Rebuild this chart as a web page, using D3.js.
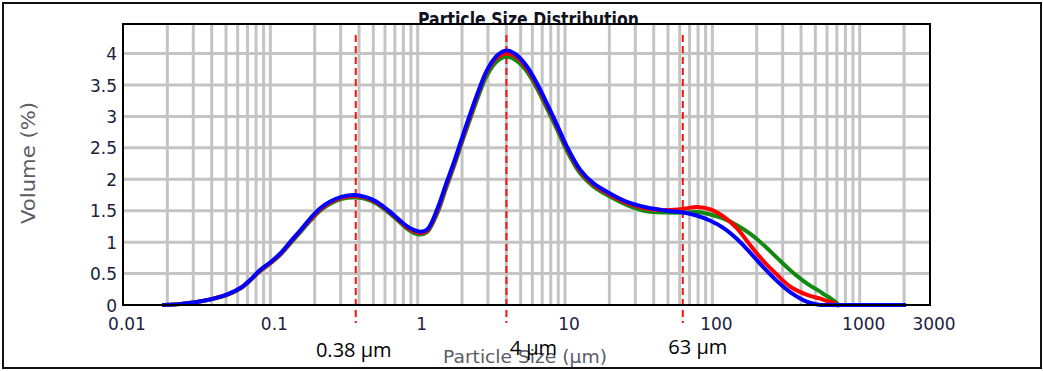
<!DOCTYPE html>
<html>
<head>
<meta charset="utf-8">
<script src="https://cdn.jsdelivr.net/npm/d3@7"></script>
<style>
  body { margin: 0; background: #fff; }
  svg { display: block; }
</style>
</head>
<body>
<svg id="chart" width="1043" height="371"></svg>
<script>
// --- data ---
const sizes = [0.019, 0.023, 0.03, 0.039, 0.051, 0.0625, 0.073, 0.0855, 0.1, 0.117,
  0.137, 0.16, 0.187, 0.218, 0.255, 0.307, 0.37, 0.44, 0.52, 0.62,
  0.73, 0.85, 0.95, 1.04, 1.16, 1.36, 1.56, 1.76, 2.0, 2.28,
  2.6, 2.96, 3.46, 4.0, 4.73, 5.53, 6.47, 7.56, 8.84, 10.3,
  12.7, 15.7, 19.3, 26.4, 36, 49, 64, 79, 97, 120,
  147, 181, 224, 275, 339, 440, 542, 571, 631, 667,
  700, 720, 1000, 2000];

const greenVol = [0, 0.01, 0.04, 0.085, 0.16, 0.26, 0.39, 0.54, 0.66, 0.8,
  0.98, 1.16, 1.34, 1.5, 1.61, 1.69, 1.71, 1.69, 1.62, 1.49,
  1.35, 1.21, 1.14, 1.12, 1.16, 1.46, 1.86, 2.20, 2.59, 2.97,
  3.34, 3.66, 3.88, 3.95, 3.88, 3.71, 3.44, 3.12, 2.79, 2.45,
  2.09, 1.88, 1.75, 1.59, 1.49, 1.47, 1.47, 1.48, 1.44, 1.37,
  1.27, 1.13, 0.95, 0.75, 0.55, 0.34, 0.21, 0.17, 0.11, 0.07,
  0.03, 0, null, null];

const redVol = [0, 0.01, 0.04, 0.09, 0.165, 0.265, 0.395, 0.55, 0.67, 0.81,
  1.0, 1.18, 1.36, 1.52, 1.63, 1.71, 1.73, 1.71, 1.64, 1.51,
  1.37, 1.23, 1.17, 1.145, 1.18, 1.5, 1.90, 2.24, 2.63, 3.02,
  3.4, 3.72, 3.94, 4.0, 3.94, 3.76, 3.49, 3.17, 2.84, 2.5,
  2.13, 1.91, 1.78, 1.62, 1.53, 1.51, 1.53, 1.56, 1.52, 1.40,
  1.22, 0.95, 0.69, 0.48, 0.29, 0.16, 0.10, 0.08, 0.05, 0.03,
  0, null, null, null];

const blueVol = [0, 0.01, 0.04, 0.09, 0.17, 0.27, 0.40, 0.56, 0.68, 0.82,
  1.01, 1.19, 1.38, 1.54, 1.645, 1.725, 1.75, 1.72, 1.65, 1.52,
  1.38, 1.25, 1.19, 1.165, 1.2, 1.53, 1.93, 2.27, 2.66, 3.05,
  3.42, 3.74, 3.97, 4.05, 3.97, 3.79, 3.52, 3.2, 2.86, 2.52,
  2.15, 1.93, 1.8, 1.64, 1.55, 1.50, 1.47, 1.42, 1.34, 1.22,
  1.05, 0.83, 0.59, 0.38, 0.2, 0.05, 0, 0, 0, 0,
  0, 0, 0, 0];

const xTicks      = [0.01, 0.1, 1, 10, 100, 1000, 3000];
const xTickLabels = ["0.01", "0.1", "1", "10", "100", "1000", "3000"];
const yTicks      = [0, 0.5, 1, 1.5, 2, 2.5, 3, 3.5, 4];
const yTickLabels = ["0", "0.5", "1", "1.5", "2", "2.5", "3", "3.5", "4"];
const markers      = [0.38, 4, 63];
const markerLabels = ["0.38 µm", "4 µm", "63 µm"];

const series = [
  { name: "green", color: "#118a11", values: greenVol },
  { name: "red",   color: "#ff0000", values: redVol },
  { name: "blue",  color: "#0000ff", values: blueVol }
];

// --- layout ---
const svg = d3.select("#chart");
const W = 1043, H = 371;
const plot = { left: 123, top: 24, right: 930, bottom: 305 };

const x = d3.scaleLog().domain([0.01, 3000]).range([plot.left, plot.right]);
const y = d3.scaleLinear().domain([0, 4.47]).range([plot.bottom, plot.top]);

// outer frame
svg.append("rect")
  .attr("x", 3).attr("y", 3)
  .attr("width", W - 5).attr("height", H - 6)
  .attr("fill", "#fff")
  .attr("stroke", "#111")
  .attr("stroke-width", 2);

// title (its lower edge is hidden behind the plot box, as in the original)
svg.append("text")
  .attr("x", 528.5)
  .attr("y", 26)
  .attr("text-anchor", "middle")
  .attr("textLength", 221)
  .attr("lengthAdjust", "spacingAndGlyphs")
  .style("font-family", "DejaVu Sans")
  .style("font-weight", "bold")
  .style("font-size", "20px")
  .style("fill", "#10131f")
  .text("Particle Size Distribution");

// plot background
svg.append("rect")
  .attr("x", plot.left).attr("y", plot.top)
  .attr("width", plot.right - plot.left)
  .attr("height", plot.bottom - plot.top)
  .attr("fill", "#fff");

// grid: log minor lines 2..9 per decade, plus decades
const gridX = [];
for (let e = -2; e <= 3; e++) {
  for (let m = 1; m <= 9; m++) {
    const v = m * Math.pow(10, e);
    if (v > 0.01 && v < 3000) gridX.push(v);
  }
}
const grid = svg.append("g").attr("class", "grid");
grid.selectAll("line.gx")
  .data(gridX)
  .join("line")
  .attr("class", "gx")
  .attr("x1", d => x(d)).attr("x2", d => x(d))
  .attr("y1", plot.top).attr("y2", plot.bottom)
  .attr("stroke", "#c4c4c4")
  .attr("stroke-width", 3);

grid.selectAll("line.gy")
  .data(yTicks.filter(d => d > 0))
  .join("line")
  .attr("class", "gy")
  .attr("x1", plot.left).attr("x2", plot.right)
  .attr("y1", d => y(d)).attr("y2", d => y(d))
  .attr("stroke", "#c4c4c4")
  .attr("stroke-width", 3);

// marker lines (dashed red)
svg.append("g")
  .selectAll("line")
  .data(markers)
  .join("line")
  .attr("x1", d => x(d)).attr("x2", d => x(d))
  .attr("y1", 35).attr("y2", 323)
  .attr("stroke", "#ff1010")
  .attr("stroke-width", 2)
  .attr("stroke-dasharray", "7,4");

// curves
const line = d3.line()
  .defined(d => d[1] != null)
  .x(d => x(d[0]))
  .y(d => y(d[1]))
  .curve(d3.curveCatmullRom.alpha(0.5));

svg.append("g")
  .selectAll("path")
  .data(series)
  .join("path")
  .attr("d", s => line(sizes.map((sz, i) => [sz, s.values[i]])))
  .attr("fill", "none")
  .attr("stroke", s => s.color)
  .attr("stroke-width", 4)
  .attr("stroke-linejoin", "round")
  .attr("stroke-linecap", "square");

// plot box
svg.append("rect")
  .attr("x", plot.left).attr("y", plot.top)
  .attr("width", plot.right - plot.left)
  .attr("height", plot.bottom - plot.top)
  .attr("fill", "none")
  .attr("stroke", "#000")
  .attr("stroke-width", 2);

// axes
const tickFont = g => g
  .style("font-family", "DejaVu Sans")
  .style("font-size", "17px")
  .style("fill", "#1c2140");

const xAxis = svg.append("g")
  .attr("transform", `translate(0,${plot.bottom})`)
  .call(d3.axisBottom(x)
    .tickValues(xTicks)
    .tickFormat((d, i) => xTickLabels[i])
    .tickSize(0)
    .tickPadding(0));
xAxis.select(".domain").remove();
xAxis.selectAll("text")
  .attr("fill", null)
  .attr("dy", null)
  .attr("x", 3.5)
  .attr("y", 25)
  .call(tickFont);

const yAxis = svg.append("g")
  .attr("transform", `translate(${plot.left},0)`)
  .call(d3.axisLeft(y)
    .tickValues(yTicks)
    .tickFormat((d, i) => yTickLabels[i])
    .tickSize(0)
    .tickPadding(0));
yAxis.select(".domain").remove();
yAxis.selectAll("text")
  .attr("fill", null)
  .attr("x", -6)
  .attr("dy", "0.36em")
  .call(tickFont);

// axis titles
svg.append("text")
  .attr("transform", "translate(35,163) rotate(-90)")
  .attr("text-anchor", "middle")
  .attr("textLength", 122)
  .attr("lengthAdjust", "spacingAndGlyphs")
  .style("font-family", "DejaVu Sans")
  .style("font-size", "19px")
  .style("fill", "#5c5c66")
  .text("Volume (%)");

svg.append("text")
  .attr("x", 525)
  .attr("y", 363)
  .attr("text-anchor", "middle")
  .attr("textLength", 164)
  .attr("lengthAdjust", "spacingAndGlyphs")
  .style("font-family", "DejaVu Sans")
  .style("font-size", "18.5px")
  .style("fill", "#5c5c66")
  .text("Particle Size (µm)");

// marker labels
const labelDx = [-2, 27, 15];
const labelY  = [357, 355, 354];
svg.append("g")
  .selectAll("text")
  .data(markers)
  .join("text")
  .attr("x", (d, i) => x(d) + labelDx[i])
  .attr("y", (d, i) => labelY[i])
  .attr("text-anchor", "middle")
  .style("font-family", "Open Sans")
  .style("font-size", "20px")
  .style("fill", "#000")
  .text((d, i) => markerLabels[i]);
</script>
</body>
</html>
